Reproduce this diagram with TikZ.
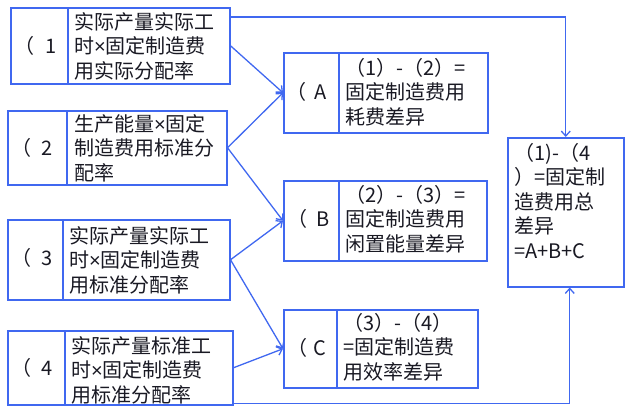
\documentclass[tikz,border=0pt]{standalone}
\usepackage{fontspec}
\newfontfamily\cjk{Noto Sans CJK SC}
\newfontfamily\latn{Liberation Sans}
\newcommand{\tms}{{\latn ×}}
\usetikzlibrary{arrows.meta}
\definecolor{lineblue}{RGB}{64,104,240}
\definecolor{txt}{RGB}{25,25,35}
\tikzset{
  box/.style={draw=lineblue, line width=1.5pt, inner sep=0pt, anchor=north west},
  lbl/.style={anchor=west, inner sep=0pt, text=txt, font=\cjk\fontsize{20}{24.5}\selectfont},
  txtblk/.style={anchor=north west, inner sep=0pt, align=left, text=txt, font=\cjk\fontsize{20}{24.5}\selectfont},
  divider/.style={draw=lineblue, line width=1.5pt},
  conn/.style={draw=lineblue, line width=1.3pt, -{Straight Barb[length=5pt,width=9pt]}}
}
\begin{document}
\begin{tikzpicture}[x=1pt,y=-1pt]
\useasboundingbox (0,0) rectangle (626,410);
% left boxes
\node[box, minimum width=219pt, minimum height=76pt] (b1) at (10,7) {};
\draw[divider] (68,7) -- (68,83);
\node[lbl] (l1) at (14,46) {（\hspace{11pt}1};
\node[txtblk] (t1) at (74,12) {实际产量实际工\\时\tms 固定制造费\\用实际分配率};

\node[box, minimum width=219pt, minimum height=74pt] (b2) at (7,110) {};
\draw[divider] (67,110) -- (67,184);
\node[lbl] (l2) at (11,148) {（\hspace{10pt}2};
\node[txtblk] (t2) at (74,114) {生产能量\tms 固定\\制造费用标准分\\配率};

\node[box, minimum width=222pt, minimum height=80pt] (b3) at (7,219) {};
\draw[divider] (63,219) -- (63,299);
\node[lbl] (l3) at (11,258) {（\hspace{10pt}3};
\node[txtblk] (t3) at (69,226) {实际产量实际工\\时\tms 固定制造费\\用标准分配率};

\node[box, minimum width=225pt, minimum height=74pt] (b4) at (7,330) {};
\draw[divider] (65,330) -- (65,404);
\node[lbl] (l4) at (11,368) {（\hspace{10pt}4};
\node[txtblk] (t4) at (71,336) {实际产量标准工\\时\tms 固定制造费\\用标准分配率};

% middle boxes
\node[box, minimum width=204pt, minimum height=80pt] (A) at (283,52) {};
\draw[divider] (339,52) -- (339,132);
\node[lbl] (lA) at (286,92) {（\hspace{8pt}A};
\node[txtblk] (tA) at (345,58) {（1）-（2）=\\固定制造费用\\耗费差异};

\node[box, minimum width=203pt, minimum height=80pt] (B) at (283,180) {};
\draw[divider] (339,180) -- (339,260);
\node[lbl] (lB) at (287,219) {（\hspace{9pt}B};
\node[txtblk] (tB) at (345,185) {（2）-（3）=\\固定制造费用\\闲置能量差异};

\node[box, minimum width=194pt, minimum height=78pt] (C) at (283,309) {};
\draw[divider] (337,309) -- (337,387);
\node[lbl] (lC) at (287,348) {（\hspace{6pt}C};
\node[txtblk] (tC) at (343,313) {（3）-（4）\\=固定制造费\\用效率差异};

% right box
\node[box, minimum width=116pt, minimum height=149pt] (R) at (507,137) {};
\node[txtblk] (tR) at (514,143) {（1)-（4\\）=固定制\\造费用总\\差异\\=A+B+C};

% connectors
\draw[conn] (b1.east) -- (A.west);
\draw[conn] (b2.east) -- (A.west);
\draw[conn] (b2.east) -- (B.west);
\draw[conn] (b3.east) -- (B.west);
\draw[conn] (b3.east) -- (C.west);
\draw[conn] (b4.east) -- (C.west);
\draw[conn] ([yshift=-10pt]b1.north east) -| (R.north);
\draw[conn] ([yshift=2pt]b4.south east) -| ([xshift=4pt]R.south);
\end{tikzpicture}
\end{document}
